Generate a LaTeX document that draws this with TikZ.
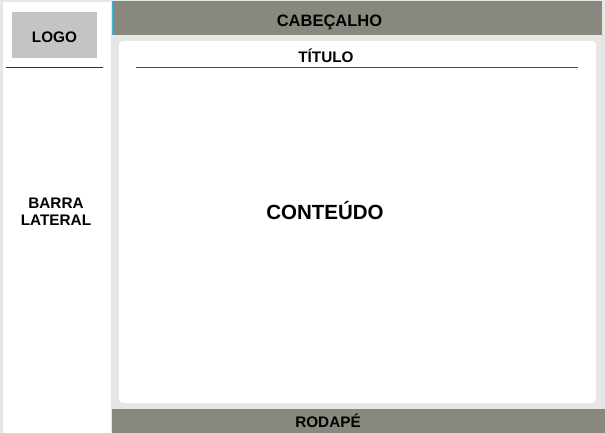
\documentclass[tikz,border=0pt]{standalone}
\usepackage{fontspec}
\setmainfont{Liberation Sans}
\definecolor{pagegray}{HTML}{E6E6E6}
\definecolor{bargray}{HTML}{88887F}
\definecolor{logogray}{HTML}{C4C4C4}
\definecolor{edgecyan}{HTML}{3AB6D6}
\begin{document}
\begin{tikzpicture}[x=1pt,y=-1pt,
  boxtext/.style={font=\bfseries\fontsize{15.3}{17}\selectfont,anchor=base,inner sep=0pt,align=center}]
\useasboundingbox (0,0) rectangle (605,433);
\fill[pagegray] (0,0) rectangle (605,433);
% barra lateral
\fill[white] (3,2) rectangle (111,433);
\fill[logogray] (12,12) rectangle (97,58);
\node[boxtext] (logo) at (54.5,43) {LOGO};
\draw[black!80,thick] (6,67) -- (103,67);
\node[boxtext] (barra) at (56,225) {BARRA\\LATERAL};
% cabecalho e rodape
\fill[bargray] (112,1) rectangle (602,35);
\draw[edgecyan] (112.5,1) -- (112.5,35);
\node[boxtext,font=\bfseries\fontsize{16.5}{18}\selectfont] (cab) at (329.5,26.5) {CABEÇALHO};
\fill[bargray] (112,409) rectangle (605,433);
\node[boxtext] (rodape) at (328,427) {RODAPÉ};
% conteudo
\fill[white,rounded corners=4pt] (119,41) rectangle (596,403);
\node[boxtext] (titulo) at (326,62.5) {TÍTULO};
\draw[black!70] (136,67) -- (578,67);
\node[boxtext,font=\bfseries\fontsize{20.5}{24}\selectfont] (conteudo) at (325,219) {CONTEÚDO};
\end{tikzpicture}
\end{document}
